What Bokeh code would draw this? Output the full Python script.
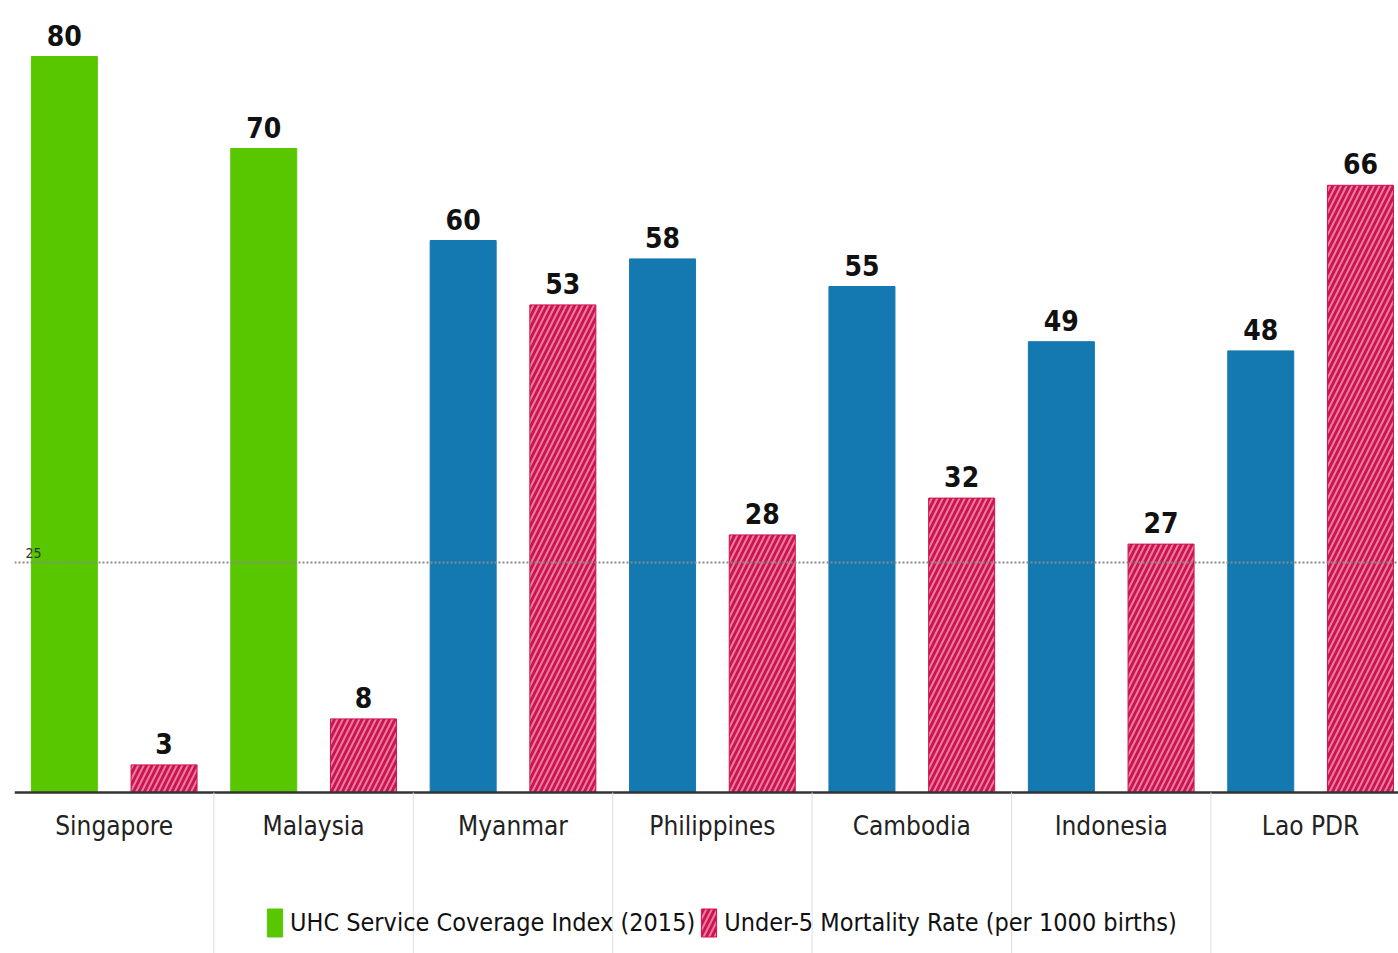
from bokeh.plotting import figure
from bokeh.models import ColumnDataSource, Legend, LegendItem, Span
from bokeh.core.properties import value
from bokeh.embed import file_html
from bokeh.resources import INLINE

countries = ["Singapore", "Malaysia", "Myanmar", "Philippines", "Cambodia", "Indonesia", "Lao PDR"]
uhc = [80, 70, 60, 58, 55, 49, 48]
u5mr = [3, 8, 53, 28, 32, 27, 66]
high_income = ["Singapore", "Malaysia"]
threshold = 25
threshold_label = "25"
series_names = ["UHC Service Coverage Index (2015)", "Under-5 Mortality Rate (per 1000 births)"]

FONT = "DejaVu Sans Condensed"
GREEN = "#58c700"
BLUE = "#1479b0"
RED = "#cf1350"

idx = list(range(len(countries)))
uhc_x = [i + 0.25 for i in idx]
u5_x = [i + 0.75 for i in idx]
centers = [i + 0.5 for i in idx]

green_src = ColumnDataSource(dict(x=[uhc_x[i] for i in idx if countries[i] in high_income],
                                  top=[uhc[i] for i in idx if countries[i] in high_income]))
blue_src = ColumnDataSource(dict(x=[uhc_x[i] for i in idx if countries[i] not in high_income],
                                 top=[uhc[i] for i in idx if countries[i] not in high_income]))
red_src = ColumnDataSource(dict(x=u5_x, top=u5mr))

px_per_unit = 9.2
W, H = 1398, 953
left = 14
frame_w = W - left
cat_w = 199.4
y_top = 792 / px_per_unit
y_bot = -(H - 792) / px_per_unit
x_end = frame_w / cat_w

p = figure(width=W, height=H, output_backend="svg", toolbar_location=None,
           x_range=(0, x_end), y_range=(y_bot, y_top),
           x_axis_type=None, y_axis_type=None,
           min_border_left=left, min_border_right=0, min_border_top=0, min_border_bottom=0)
p.outline_line_color = None
p.xgrid.visible = False
p.ygrid.visible = False
p.background_fill_color = "white"

bw = 66 / cat_w
g = p.vbar(x="x", top="top", bottom=0, width=bw, source=green_src, fill_color=GREEN, line_color=GREEN)
b = p.vbar(x="x", top="top", bottom=0, width=bw, source=blue_src, fill_color=BLUE, line_color=BLUE)
r = p.vbar(x="x", top="top", bottom=0, width=bw, source=red_src, fill_color=RED, line_color=RED,
           hatch_pattern="/", hatch_color="white", hatch_alpha=0.45, hatch_scale=11, hatch_weight=2)

# threshold dotted line
p.add_layout(Span(location=threshold, dimension="width", line_color="#8a8a8a",
                  line_dash="2 2", line_width=2))
p.text(x=[0.055], y=[threshold], text=[threshold_label], text_font=value(FONT),
       text_font_size="14px", text_color="#333333", text_align="left",
       text_baseline="bottom", y_offset=-5)

# baseline
p.segment(x0=[0], y0=[0], x1=[x_end], y1=[0], line_color="#333333", line_width=2.5)

# category separators
seps = idx[1:]
p.segment(x0=seps, y0=[0] * len(seps), x1=seps, y1=[y_bot] * len(seps),
          line_color="#dddddd", line_width=1)

# value labels
for xs, vals in ((uhc_x, uhc), (u5_x, u5mr)):
    p.text(x=xs, y=vals, text=[str(v) for v in vals], text_font=value(FONT),
           text_font_size="28px", text_font_style="bold", text_color="#111111",
           text_align="center", text_baseline="bottom", y_offset=-11)

# category labels
p.text(x=centers, y=[0] * len(centers), text=countries, text_font=value(FONT),
       text_font_size="26px", text_color="#222222", text_align="center",
       text_baseline="middle", y_offset=33)

legend = Legend(items=[LegendItem(label=series_names[0], renderers=[g]),
                       LegendItem(label=series_names[1], renderers=[r])],
                orientation="horizontal", location=(251, 13),
                glyph_width=19, glyph_height=35, label_standoff=6, spacing=4,
                padding=0, margin=0, border_line_color=None, background_fill_alpha=0,
                label_text_font=FONT, label_text_font_size="25px", label_text_color="#111111",
                label_height=35)
p.add_layout(legend, "center")

open("out.html", "w").write(file_html(p, INLINE))
